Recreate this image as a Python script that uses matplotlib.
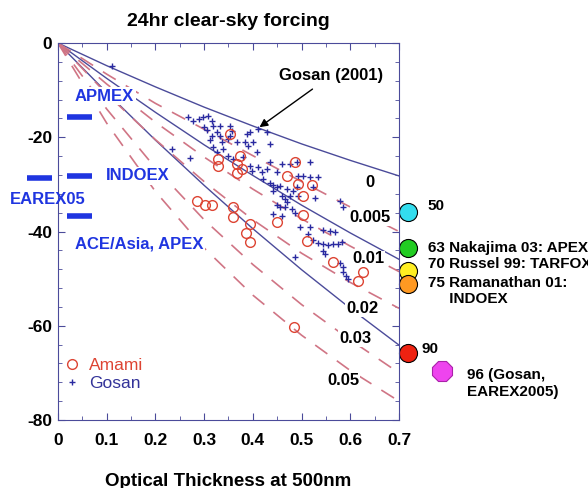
import numpy as np
import matplotlib.pyplot as plt

plt.rcParams['font.family'] = ['Liberation Sans', 'DejaVu Sans']
plt.rcParams['font.weight'] = 'bold'
plt.rcParams['axes.unicode_minus'] = False

tau_grid = [0, 0.1, 0.2, 0.3, 0.4, 0.5, 0.6, 0.7]
solid_curves = [
    [0, -4.8, -9.3, -13.6, -17.6, -21.4, -24.9, -28.2],
    [0, -7.5, -14.7, -21.6, -28.1, -34.4, -40.3, -45.9],
    [0, -10.5, -20.6, -30.2, -39.4, -48.1, -56.3, -64.1],
]
dashed_curves = [
    [0, -6.6, -12.8, -18.3, -23.9, -29.4, -34.8, -40.0],
    [0, -8.7, -16.8, -24.2, -31.0, -37.3, -43.1, -48.5],
    [0, -10.8, -20.5, -29.4, -37.5, -44.6, -50.8, -56.3],
    [0, -14.0, -26.5, -37.5, -47.0, -55.5, -63.0, -70.0],
    [0, -17.0, -31.5, -43.5, -53.5, -62.0, -69.5, -76.0],
]
curve_labels = ['0', '0.005', '0.01', '0.02', '0.03', '0.05']
curve_label_x = [0.64, 0.64, 0.637, 0.624, 0.61, 0.585]
curve_label_y = [-29.5, -37.0, -45.8, -56.3, -62.7, -71.7]

# Amami observations
amami_tau = [0.353, 0.374, 0.329, 0.329, 0.368, 0.378, 0.368, 0.487, 0.470,
             0.493, 0.522, 0.503, 0.285, 0.302, 0.316, 0.359, 0.359, 0.394,
             0.386, 0.394, 0.450, 0.503, 0.511, 0.565, 0.626, 0.616, 0.485]
amami_f = [-19.3, -24.0, -24.6, -26.1, -25.7, -26.8, -27.6, -25.3, -28.3,
           -30.0, -30.2, -32.5, -33.6, -34.3, -34.3, -34.7, -37.0, -38.5,
           -40.3, -42.2, -37.9, -36.4, -42.0, -46.5, -48.6, -50.5, -60.2]

# Gosan observations
gosan_tau = [0.111, 0.234, 0.271, 0.267, 0.277, 0.290, 0.298, 0.308, 0.316,
             0.318, 0.300, 0.306, 0.316, 0.333, 0.353, 0.333, 0.353, 0.357,
             0.326, 0.337, 0.349, 0.312, 0.339, 0.368, 0.384, 0.390, 0.400,
             0.394, 0.388, 0.411, 0.429, 0.435, 0.409, 0.318, 0.326,
             0.349, 0.359, 0.380, 0.394, 0.411, 0.419, 0.398, 0.429, 0.450,
             0.421, 0.435, 0.441, 0.450, 0.456, 0.470, 0.483, 0.441, 0.460,
             0.476, 0.493, 0.466, 0.450, 0.466, 0.480, 0.456, 0.470, 0.460,
             0.441, 0.435, 0.460, 0.476, 0.491, 0.517, 0.493, 0.503, 0.517,
             0.534, 0.491, 0.524, 0.528, 0.579, 0.585, 0.487, 0.497, 0.517,
             0.544, 0.559, 0.569, 0.534, 0.544, 0.554, 0.565, 0.575, 0.583,
             0.544, 0.548, 0.487, 0.579, 0.585, 0.585, 0.591, 0.595, 0.513,
             0.524]
gosan_f = [-4.9, -22.5, -24.4, -15.6, -16.5, -16.1, -15.6, -15.4, -16.5,
           -17.6, -17.8, -18.4, -19.7, -19.7, -19.7, -17.6, -17.6, -18.6,
           -18.8, -21.0, -20.3, -20.6, -22.5, -21.0, -21.0, -21.8, -21.0,
           -18.8, -19.3, -18.2, -18.8, -21.4, -23.1, -22.1, -23.1,
           -24.0, -24.6, -24.2, -26.1, -26.3, -27.4, -27.2, -26.8, -27.4,
           -28.9, -29.6, -30.2, -30.6, -30.4, -31.0, -31.5, -31.5, -32.5,
           -32.5, -32.5, -33.2, -34.3, -34.9, -35.3, -34.9, -33.8, -36.8,
           -36.2, -25.3, -25.7, -25.7, -25.3, -25.3, -28.3, -28.3, -28.5,
           -28.5, -30.6, -30.6, -32.8, -33.6, -34.7, -36.0, -39.0, -39.0,
           -39.6, -39.8, -40.0, -42.4, -42.6, -42.8, -42.6, -42.6, -42.2,
           -44.1, -44.8, -45.4, -46.7, -47.5, -48.6, -49.5, -50.1, -40.5,
           -41.8]

# other campaigns (values at tau = 0.7)
ref_f = [-35.8, -43.5, -48.4, -51.2, -65.7]
ref_colors = ['#33ddee', '#22cc22', '#ffee22', '#ff9922', '#ee2211']
ref_text = ['50', '63 Nakajima 03: APEX', '70 Russel 99: TARFOX',
            '75 Ramanathan 01:\n     INDOEX', '90']
gosan05_tau, gosan05_f = 0.788, -69.6

# campaign bars on the left
bar_names = ['APMEX', 'INDOEX', 'EAREX05', 'ACE/Asia, APEX']
bar_f = [-15.6, -28.3, -28.7, -36.8]

navy = '#4b4b9a'
pink = '#d07585'
blue = '#1f35e0'

fig = plt.figure(figsize=(5.88, 4.88), dpi=100)
ax = fig.add_axes([0.0986, 0.1393, 0.58, 0.7725])

for c in solid_curves:
    ax.plot(tau_grid, c, color=navy, lw=1.0)
for c in dashed_curves:
    ax.plot(tau_grid, c, color=pink, lw=1.2, dashes=(9, 7))

ax.plot(gosan_tau, gosan_f, '+', color='#2a2aa0', ms=5, mew=1.0, label='Gosan')
ax.plot(amami_tau, amami_f, 'o', mfc='none', mec='#dd4433', ms=7, mew=1.0,
        label='Amami')

for t, x, y in zip(curve_labels, curve_label_x, curve_label_y):
    ax.text(x, y, t, ha='center', va='center', fontsize=12,
            bbox=dict(facecolor='white', edgecolor='none', pad=0.5))

ax.annotate('Gosan (2001)', xy=(0.409, -18.2), xytext=(0.561, -6.9),
            ha='center', va='center', fontsize=12,
            arrowprops=dict(arrowstyle='-|>', color='k', lw=1,
                            mutation_scale=12, shrinkA=4))

# campaign bars + names
ax.plot([0.018, 0.070], [bar_f[0]] * 2, color=blue, lw=4, solid_capstyle='butt')
ax.plot([0.018, 0.070], [bar_f[1]] * 2, color=blue, lw=4, solid_capstyle='butt')
ax.plot([-0.064, -0.012], [bar_f[2]] * 2, color=blue, lw=4,
        solid_capstyle='butt', clip_on=False)
ax.plot([0.018, 0.070], [bar_f[3]] * 2, color=blue, lw=4, solid_capstyle='butt')
txt_box = dict(facecolor='white', edgecolor='none', pad=1)
ax.text(0.035, -11.3, bar_names[0], color=blue, fontsize=12, va='center', bbox=txt_box)
ax.text(0.098, -28.2, bar_names[1], color=blue, fontsize=12, va='center', bbox=txt_box)
ax.text(-0.098, -33.2, bar_names[2], color=blue, fontsize=12, va='center',
        clip_on=False)
ax.text(0.035, -42.6, bar_names[3], color=blue, fontsize=12, va='center', bbox=txt_box)

# results from other campaigns, outside the frame
for f, col, t in zip(ref_f, ref_colors, ref_text):
    ax.plot(0.719, f, 'o', ms=13, mfc=col, mec='k', mew=0.8, clip_on=False)
ax.plot(gosan05_tau, gosan05_f, '8', ms=15, mfc='#ee44ee', mec='#aa22aa',
        mew=0.8, clip_on=False)
ax.text(0.759, -34.5, ref_text[0], fontsize=11, va='center')
ax.text(0.759, -43.4, ref_text[1], fontsize=11, va='center')
ax.text(0.759, -46.9, ref_text[2], fontsize=11, va='center')
ax.text(0.759, -52.6, ref_text[3], fontsize=11, va='center', linespacing=1.25)
ax.text(0.746, -65.0, ref_text[4], fontsize=11, va='center')
ax.text(0.84, -72.3, '96 (Gosan,\nEAREX2005)', fontsize=11, va='center',
        linespacing=1.25)

ax.set_xlim(0, 0.7)
ax.set_ylim(-80, 0)
ax.set_xticks(np.arange(0, 0.71, 0.1))
ax.set_xticklabels(['0', '0.1', '0.2', '0.3', '0.4', '0.5', '0.6', '0.7'])
ax.set_xticks(np.arange(0, 0.71, 0.05), minor=True)
ax.set_yticks([0, -20, -40, -60, -80])
ax.set_yticks(np.arange(-80, 1, 4), minor=True)
ax.tick_params(which='both', direction='in', top=True, right=True,
               color=navy, labelsize=12.5)
ax.tick_params(axis='x', which='major', pad=9)
ax.tick_params(axis='y', which='major', pad=4)
ax.tick_params(which='major', length=5)
ax.tick_params(which='minor', length=3)
for s in ax.spines.values():
    s.set_color(navy)

ax.set_title('24hr clear-sky forcing', fontsize=14, fontweight='bold', pad=12)
ax.set_xlabel('Optical Thickness at 500nm', fontsize=13.5, fontweight='bold',
              labelpad=18)

leg = ax.legend(handles=ax.lines[8:10][::-1], loc='lower left',
                bbox_to_anchor=(-0.035, 0.035), frameon=False,
                labelcolor=['#dd4433', '#333399'], handletextpad=0.4,
                handlelength=1.2, labelspacing=0.15,
                prop={'weight': 'normal', 'size': 12.5})

fig.savefig('out.png', dpi=100)
